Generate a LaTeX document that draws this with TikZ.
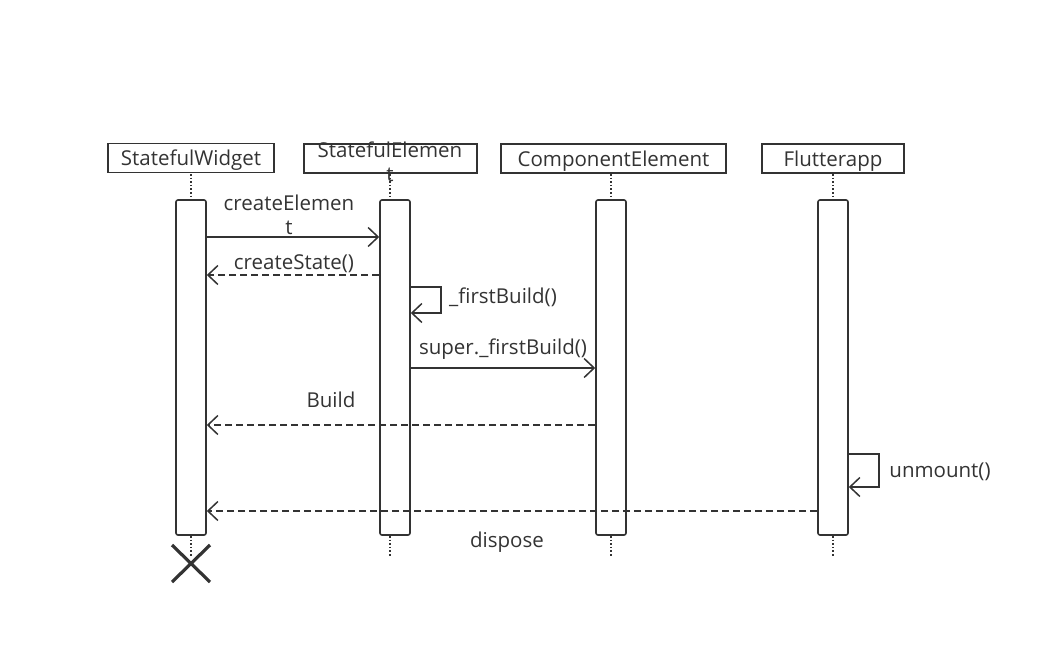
\documentclass[tikz,border=0pt]{standalone}
\usepackage{fontspec}
\setmainfont{Open Sans}
\usetikzlibrary{arrows.meta}
\definecolor{ink}{HTML}{333333}
\begin{document}
\begin{tikzpicture}[x=1pt,y=-1pt,
  every node/.style={font=\fontsize{20.5}{24}\selectfont, text=ink, inner sep=0pt},
  head/.style={draw=ink, line width=1.6pt, minimum height=29pt, anchor=center, text depth=0pt},
  bar/.style={draw=ink, line width=1.6pt, fill=white, rounded corners=2pt},
  life/.style={draw=ink, line width=1.6pt, dotted},
  msg/.style={draw=ink, line width=1.5pt, -{Straight Barb[length=10pt,width=19pt,line width=1.5pt]}},
  reply/.style={msg, dash pattern=on 7pt off 4pt},
  lbl/.style={align=center}]
\useasboundingbox (0,0) rectangle (1058,646);

% lifeline heads
\node[head, minimum width=166pt] (hw) at (191,158) {StatefulWidget};
\node[head, minimum width=173pt] (he) at (390.5,158.5) {};
\node[lbl] (het) at (390,162) {StatefulElemen\\t};
\node[head, minimum width=225pt] (hc) at (613.5,158.5) {ComponentElement};
\node[head, minimum width=142pt] (hf) at (833,158.5) {Flutterapp};

% lifelines
\foreach \x/\n in {191/w,390/e,611/c,833/f}{
  \coordinate (t\n) at (\x,174);
  \coordinate (b\n) at (\x,556);
}
\draw[life] (tw) -- (191,200);
\draw[life] (te) -- (390,200);
\draw[life] (tc) -- (611,200);
\draw[life] (tf) -- (833,200);
\draw[life] (191,536) -- (bw);
\draw[life] (390,536) -- (be);
\draw[life] (611,536) -- (bc);
\draw[life] (833,536) -- (bf);

% activation bars
\node[bar, minimum width=30pt, minimum height=335pt] (aw) at (191,367.5) {};
\node[bar, minimum width=30pt, minimum height=335pt] (ae) at (395,367.5) {};
\node[bar, minimum width=30pt, minimum height=335pt] (ac) at (611,367.5) {};
\node[bar, minimum width=30pt, minimum height=335pt] (af) at (833,367.5) {};

% destruction mark
\draw[draw=ink, line width=3.2pt] (172,545) -- (210,582) (210,545) -- (172,582);

% messages
\coordinate (m1a) at (aw.east |- 0,237);
\coordinate (m1b) at (ae.west |- 0,237);
\draw[msg] (m1a) -- (m1b);
\node[lbl] (l1) at (289,215) {createElemen\\t};

\coordinate (m2a) at (ae.west |- 0,275);
\coordinate (m2b) at (aw.east |- 0,275);
\draw[reply] (m2a) -- (m2b);
\node (l2) at (294,264) {createState()};

\coordinate (s1a) at (ae.east |- 0,287);
\coordinate (s1b) at (ae.east |- 0,313);
\draw[msg] (s1a) -- ++(30,0) |- (s1b);
\node (l3) at (503,297) {\_firstBuild()};

\coordinate (m3a) at (ae.east |- 0,368);
\coordinate (m3b) at (ac.west |- 0,368);
\draw[msg] (m3a) -- (m3b);
\node (l4) at (503,349) {super.\_firstBuild()};

\coordinate (m4a) at (ac.west |- 0,425);
\coordinate (m4b) at (aw.east |- 0,425);
\draw[reply] (m4a) -- (m4b);
\node (l5) at (331,400) {Build};

\coordinate (s2a) at (af.east |- 0,454);
\coordinate (s2b) at (af.east |- 0,487);
\draw[msg] (s2a) -- ++(30,0) |- (s2b);
\node (l6) at (940,472) {unmount()};

\coordinate (m5a) at (af.west |- 0,511);
\coordinate (m5b) at (aw.east |- 0,511);
\draw[reply] (m5a) -- (m5b);
\node (l7) at (507,542) {dispose};
\end{tikzpicture}
\end{document}
